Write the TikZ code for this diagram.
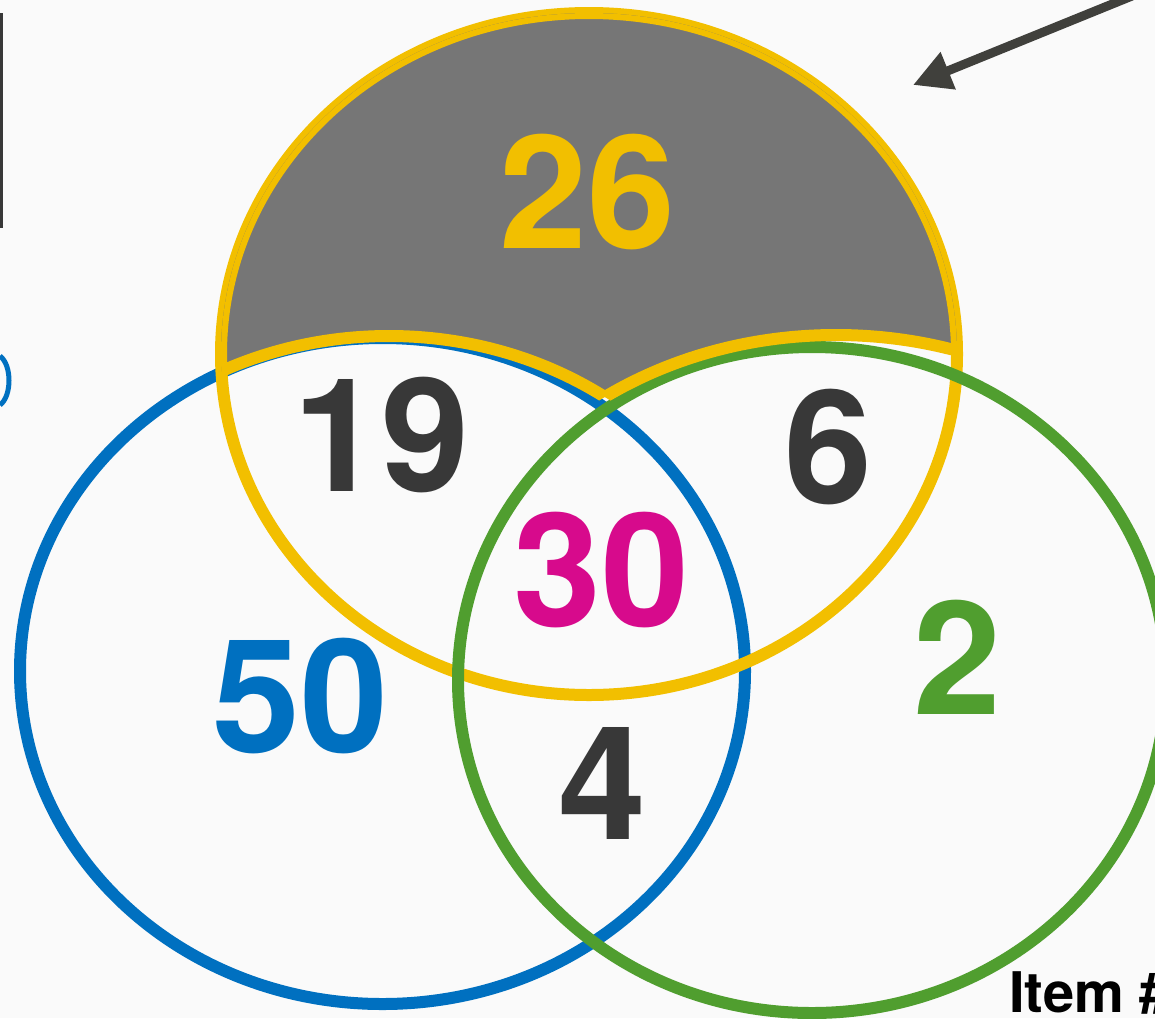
\documentclass[tikz,border=0pt]{standalone}
\usepackage{fontspec}
\setmainfont{TeX Gyre Heros}
\usetikzlibrary{arrows.meta}
\definecolor{cBg}{HTML}{FAFAFA}
\definecolor{cY}{HTML}{F2BF00}
\definecolor{cB}{HTML}{0070C0}
\definecolor{cG}{HTML}{509E2F}
\definecolor{cGrey}{HTML}{767676}
\definecolor{cDark}{HTML}{383838}
\definecolor{cMag}{HTML}{D70A8C}
\definecolor{cArr}{HTML}{40403C}
\tikzset{
  pY/.style={insert path={(589,354) ellipse [x radius=368, y radius=341]}},
  pB/.style={insert path={(382.5,671) ellipse [x radius=362.5, y radius=333]}},
  pG/.style={insert path={(812,680) ellipse [x radius=354, y radius=333]}},
  pBp/.style={insert path={(389,671) ellipse [x radius=375, y radius=335]}},
  pGp/.style={insert path={(836,680) ellipse [x radius=404, y radius=345]}},
  bigR/.style={insert path={(-60,-60) rectangle (1250,1100)}},
  ringY/.style={draw=cY, line width=12},
  ringB/.style={draw=cB, line width=12},
  ringG/.style={draw=cG, line width=12},
  num/.style={font=\bfseries\fontsize{158}{158}\selectfont, anchor=base, inner sep=0pt},
}
\begin{document}
\begin{tikzpicture}[x=1pt,y=-1pt]
\clip (0,0) rectangle (1155,1018);
\fill[cBg] (0,0) rectangle (1155,1018);

% circles
\draw[ringB, pB];
\draw[ringY, pY];
\draw[ringG, pG];

% grey region (yellow only)
\begin{scope}
  \clip[pY];
  \begin{scope}[even odd rule]
    \clip[bigR, pBp];
    \clip[bigR, pGp];
    \fill[cGrey, bigR];
    \draw[ringY, pY];
  \end{scope}
  \begin{scope}[even odd rule]
    \clip[bigR, pGp];
    \draw[ringY, pBp];
  \end{scope}
  \begin{scope}[even odd rule]
    \clip[bigR, pBp];
    \draw[ringY, pGp];
  \end{scope}
\end{scope}

% numbers
\node[num, text=cY]    (n26) at (587,248) {26};
\node[num, text=cDark] (n19) at (381,491) {19};
\node[num, text=cDark] (n6)  at (828,503) {6};
\node[num, text=cMag]  (n30) at (601,626) {30};
\node[num, text=cB]    (n50) at (300,752) {50};
\node[num, text=cDark] (n4)  at (602,839) {4};
\node[num, text=cG]    (n2)  at (957,714) {2};

% label
\node[font=\bfseries\fontsize{56}{56}\selectfont, anchor=base west, inner sep=0pt] (item) at (1009,1012) {Item \#};

% arrow
\coordinate (arrS) at (1132,-4);
\coordinate (arrE) at (913,85);
\draw[cArr, line width=9, -{Triangle[length=38pt,width=38pt]}] (arrS) -- (arrE);

% left fragments
\coordinate (lt) at (1.2,13);
\coordinate (lb) at (1.2,228);
\draw[cDark, line width=2.6] (lt) -- (lb);
\coordinate (pa) at (0,356);
\coordinate (pb) at (0,405);
\draw[cB, line width=5] (pa) .. controls (12,365) and (12,396) .. (pb);
\end{tikzpicture}
\end{document}
